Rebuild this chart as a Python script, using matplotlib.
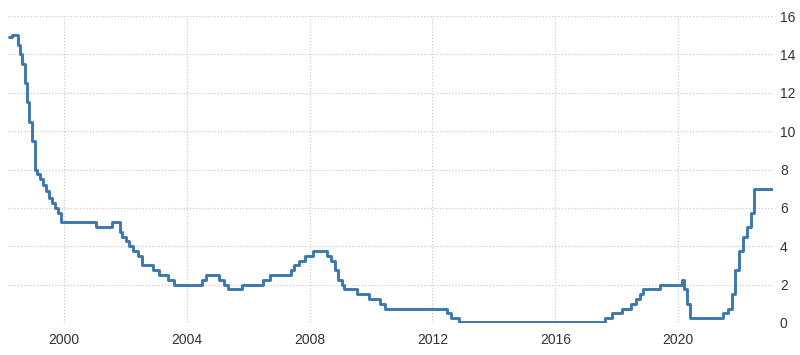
import matplotlib
matplotlib.use("Agg")
import matplotlib.pyplot as plt

# policy rate (%), decimal year of each change
years = [1998.20, 1998.30, 1998.50, 1998.58, 1998.65, 1998.72, 1998.80, 1998.88, 1998.95,
         1999.05, 1999.12, 1999.22, 1999.32, 1999.42, 1999.52, 1999.62, 1999.72, 1999.82, 1999.92,
         2001.06, 2001.58, 2001.82, 2001.90, 2002.02, 2002.12, 2002.25, 2002.42, 2002.55,
         2002.90, 2003.10, 2003.40, 2003.58,
         2004.50, 2004.62, 2005.05, 2005.20, 2005.33, 2005.80, 2006.48, 2006.70,
         2007.38, 2007.48, 2007.64, 2007.85, 2008.12, 2008.58, 2008.70, 2008.82, 2008.92, 2009.05,
         2009.12, 2009.55, 2009.95, 2010.28, 2010.45,
         2012.48, 2012.60, 2012.88,
         2017.62, 2017.86, 2018.16, 2018.48, 2018.62, 2018.75, 2018.86, 2019.40,
         2020.13, 2020.18, 2020.28, 2020.38,
         2021.45, 2021.62, 2021.75, 2021.86, 2021.98, 2022.12, 2022.25, 2022.38, 2022.48,
         2023.06]
rate = [14.9, 15.0, 14.5, 14.0, 13.5, 12.5, 11.5, 10.5, 9.5,
        8.0, 7.75, 7.5, 7.2, 6.9, 6.5, 6.25, 6.0, 5.75, 5.25,
        5.0, 5.25, 4.75, 4.5, 4.25, 4.0, 3.75, 3.5, 3.0,
        2.75, 2.5, 2.25, 2.0,
        2.25, 2.5, 2.25, 2.0, 1.75, 2.0, 2.25, 2.5,
        2.75, 3.0, 3.25, 3.5, 3.75, 3.5, 3.25, 2.75, 2.25, 2.0,
        1.75, 1.5, 1.25, 1.0, 0.75,
        0.5, 0.25, 0.05,
        0.25, 0.5, 0.75, 1.0, 1.25, 1.5, 1.75, 2.0,
        2.25, 1.75, 1.0, 0.25,
        0.5, 0.75, 1.5, 2.75, 3.75, 4.5, 5.0, 5.75, 7.0,
        7.0]

x_ticks = [2000, 2004, 2008, 2012, 2016, 2020]
y_ticks = [0, 2, 4, 6, 8, 10, 12, 14, 16]

fig = plt.figure(figsize=(8, 3.55), dpi=100)
ax = fig.add_axes([8 / 800, 32 / 355, 765 / 800, 307 / 355])

ax.plot(years, rate, drawstyle="steps-post", color="#3c78ad", linewidth=2.1,
        solid_joinstyle="round", solid_capstyle="round")

ax.set_xlim(1998.18, 2023.09)
ax.set_ylim(0, 16)
ax.set_xticks(x_ticks)
ax.set_yticks(y_ticks)
ax.yaxis.tick_right()

ax.grid(True, color="#cccccc", linestyle=(0, (1, 1.5)), linewidth=0.9)
ax.set_axisbelow(True)
for s in ax.spines.values():
    s.set_visible(False)

ax.tick_params(axis="both", length=0, labelsize=10, colors="#333333")
ax.tick_params(axis="x", pad=7)
ax.tick_params(axis="y", pad=5)
for lab in ax.get_xticklabels() + ax.get_yticklabels():
    lab.set_family(["Liberation Sans", "DejaVu Sans"])

fig.savefig("out.png", dpi=100)
